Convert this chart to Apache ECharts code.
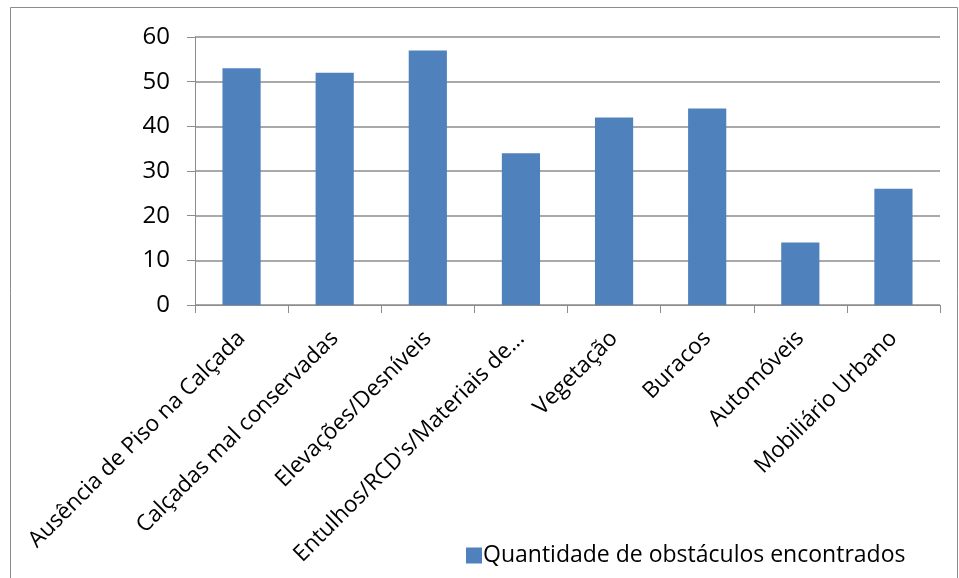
<!DOCTYPE html>
<html>
<head>
<meta charset="utf-8">
<script src="https://cdn.jsdelivr.net/npm/echarts@6/dist/echarts.min.js"></script>
<style>
    html, body { margin: 0; padding: 0; background: #fff; }
    #chart { width: 959px; height: 578px; }
</style>
</head>
<body>
<div id="chart"></div>
<script>
    var categories = ['Ausência de Piso na Calçada', 'Calçadas mal conservadas', 'Elevações/Desníveis',
        'Entulhos/RCD\'s/Materiais de...', 'Vegetação', 'Buracos', 'Automóveis', 'Mobiliário Urbano'];
    var values = [53, 52, 57, 34, 42, 44, 14, 26];
    var seriesName = 'Quantidade de obstáculos encontrados';

    var font = '"Open Sans", "Noto Sans", sans-serif';

    var option = {
        animation: false,
        textStyle: { fontFamily: font },
        graphic: [{
            type: 'rect',
            shape: { x: 10.5, y: 7.5, width: 947, height: 580 },
            style: { fill: 'none', stroke: '#8c8c8c', lineWidth: 1 }
        }],
        legend: {
            data: [seriesName],
            left: 461,
            top: 539,
            itemWidth: 16,
            itemHeight: 16,
            itemGap: 4,
            icon: 'rect',
            textStyle: { fontSize: 23, color: '#000', fontFamily: font, padding: [0, 0, 0, -4] }
        },
        grid: {
            left: 195,
            right: 19,
            top: 37,
            bottom: 273
        },
        xAxis: {
            type: 'category',
            data: categories,
            axisLine: { lineStyle: { color: '#8c8c8c', width: 1 } },
            axisTick: { show: true, length: 8, lineStyle: { color: '#8c8c8c' } },
            axisLabel: {
                rotate: 45,
                interval: 0,
                fontSize: 22.5,
                color: '#000',
                margin: 30,
                fontFamily: font
            }
        },
        yAxis: {
            type: 'value',
            min: 0,
            max: 60,
            interval: 10,
            axisLine: { show: true, lineStyle: { color: '#8c8c8c', width: 1 } },
            axisTick: { show: true, length: 8, lineStyle: { color: '#8c8c8c' } },
            splitLine: { lineStyle: { color: '#8c8c8c', width: 1.5 } },
            axisLabel: {
                fontSize: 24,
                color: '#000',
                margin: 25,
                fontFamily: font
            }
        },
        series: [{
            name: seriesName,
            type: 'bar',
            data: values,
            barWidth: '41%',
            itemStyle: { color: '#4f81bd' }
        }]
    };

    var chart = echarts.init(document.getElementById('chart'));
    chart.setOption(option);
</script>
</body>
</html>
